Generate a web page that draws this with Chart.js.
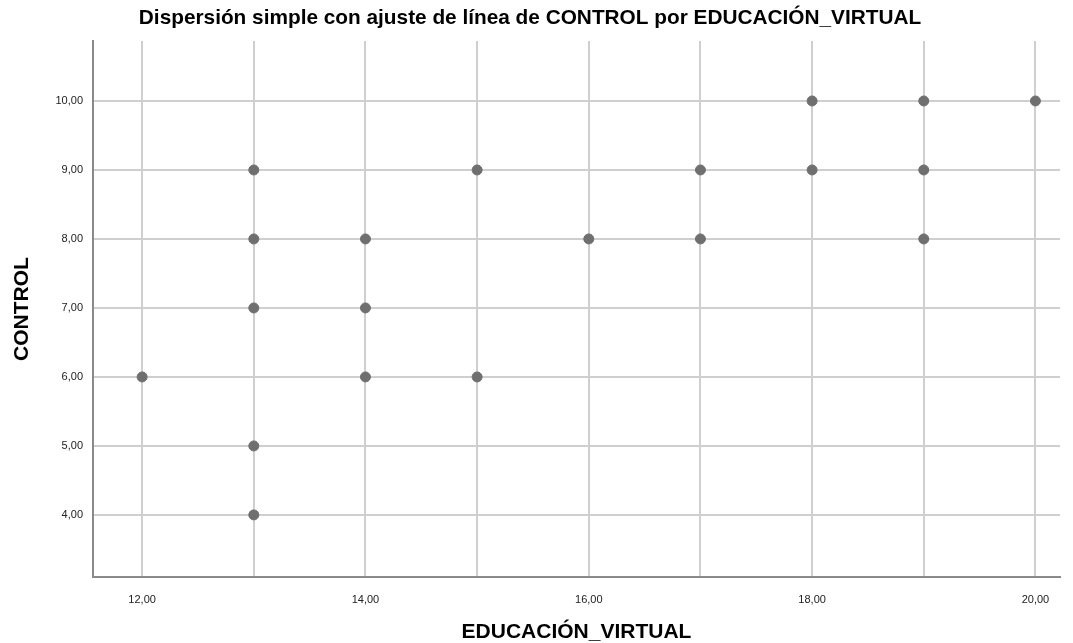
<!DOCTYPE html>
<html>
<head>
<meta charset="utf-8">
<script src="https://cdn.jsdelivr.net/npm/chart.js@4.4.1/dist/chart.umd.min.js"></script>
<style>
  html, body { margin: 0; padding: 0; background: #fff; }
  #wrap { width: 1073px; height: 643px; }
</style>
</head>
<body>
<div id="wrap"><canvas id="scatterChart"></canvas></div>
<script>
// EDUCACIÓN_VIRTUAL (x) vs CONTROL (y)
const educacionVirtual = [12, 13, 13, 13, 13, 13, 14, 14, 14, 15, 15, 16, 17, 17, 18, 18, 19, 19, 19, 20];
const control          = [ 6,  9,  8,  7,  5,  4,  8,  7,  6,  9,  6,  8,  9,  8, 10,  9, 10,  9,  8, 10];

const xTicks = [12, 13, 14, 15, 16, 17, 18, 19, 20];
const xLabelTicks = [12, 14, 16, 18, 20];
const yTicks = [4, 5, 6, 7, 8, 9, 10];

const fmt = v => v.toFixed(2).replace(".", ",");
const points = educacionVirtual.map((x, i) => ({ x: x, y: control[i] }));
const FONT = "'Liberation Sans', Arial, sans-serif";

var ctx = document.getElementById("scatterChart").getContext("2d");
var chart = new Chart(ctx, {
  type: "scatter",
  data: {
    datasets: [
      {
        label: "CONTROL",
        data: points,
        backgroundColor: "#6f6f6f",
        borderColor: "#6f6f6f",
        pointRadius: 5,
        pointHoverRadius: 5,
      },
    ],
  },
  options: {
    responsive: true,
    maintainAspectRatio: false,
    animation: false,
    layout: { padding: { left: 0, right: 13, top: 0, bottom: 0 } },
    plugins: {
      legend: { display: false },
      tooltip: { enabled: false },
      title: {
        display: true,
        text: "Dispersión simple con ajuste de línea de CONTROL por EDUCACIÓN_VIRTUAL",
        color: "#000",
        font: { family: FONT, size: 20.8, weight: "bold", lineHeight: 1.2 },
        padding: { top: 6, bottom: 10 },
      },
    },
    scales: {
      x: {
        type: "linear",
        min: 11.56,
        max: 20.22,
        afterBuildTicks: s => { s.ticks = xTicks.map(v => ({ value: v })); },
        afterFit: s => { s.height = 66; },
        grid: { color: "#cfcfcf", lineWidth: 2, drawTicks: false },
        border: { color: "#8a8a8a", width: 2 },
        ticks: {
          color: "#222",
          padding: 16,
          autoSkip: false,
          maxRotation: 0,
          font: { family: FONT, size: 11 },
          callback: v => (xLabelTicks.includes(v) ? fmt(v) : ""),
        },
        title: {
          display: true,
          text: "EDUCACIÓN_VIRTUAL",
          color: "#000",
          font: { family: FONT, size: 21, weight: "bold", lineHeight: 1 },
          padding: { top: 0, bottom: 0 },
        },
      },
      y: {
        type: "linear",
        min: 3.1,
        max: 10.87,
        afterBuildTicks: s => { s.ticks = yTicks.map(v => ({ value: v })); },
        afterFit: s => { s.width = 93; },
        grid: { color: "#cfcfcf", lineWidth: 2, drawTicks: false },
        border: { color: "#8a8a8a", width: 2 },
        ticks: {
          color: "#222",
          padding: 10,
          font: { family: FONT, size: 11 },
          callback: v => fmt(v),
        },
        title: {
          display: true,
          text: "CONTROL",
          color: "#000",
          font: { family: FONT, size: 21, weight: "bold", lineHeight: 1 },
          padding: { top: 12, bottom: 0 },
        },
      },
    },
  },
});
</script>
</body>
</html>
